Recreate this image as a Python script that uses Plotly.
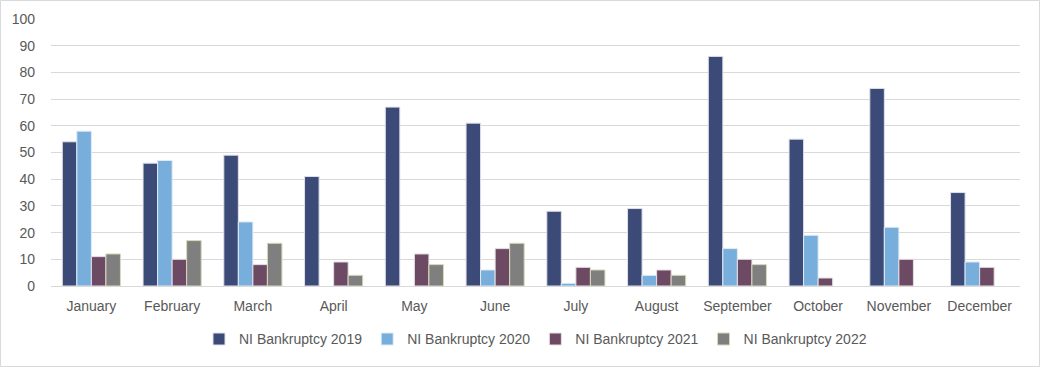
import plotly.graph_objects as go

months = ["January", "February", "March", "April", "May", "June", "July",
          "August", "September", "October", "November", "December"]
v2019 = [54, 46, 49, 41, 67, 61, 28, 29, 86, 55, 74, 35]
v2020 = [58, 47, 24, None, None, 6, 1, 4, 14, 19, 22, 9]
v2021 = [11, 10, 8, 9, 12, 14, 7, 6, 10, 3, 10, 7]
v2022 = [12, 17, 16, 4, 8, 16, 6, 4, 8, None, None, None]

series = [
    ("NI Bankruptcy 2019", v2019, "#3C4A78", "#E0E0EA"),
    ("NI Bankruptcy 2020", v2020, "#77AEDC", "#E0EAF4"),
    ("NI Bankruptcy 2021", v2021, "#6D4A64", "#E6DEE4"),
    ("NI Bankruptcy 2022", v2022, "#7F7F7F", "#D8D8B8"),
]

fig = go.Figure()
for name, vals, color, edge in series:
    fig.add_trace(go.Bar(x=months, y=vals, name=name,
                         marker=dict(color=color, line=dict(color=edge, width=1))))

font = dict(family="Liberation Sans Narrow, Liberation Sans, Arial", size=14, color="#595959")
fig.update_layout(
    width=1040, height=367,
    barmode="group", bargap=0.28, bargroupgap=0,
    plot_bgcolor="white", paper_bgcolor="white",
    margin=dict(l=51, r=20, t=19, b=81, autoexpand=False),
    font=font,
    showlegend=True,
    legend=dict(orientation="h", x=0.5, xanchor="center", y=-0.2, yanchor="middle",
                font=font, itemwidth=30, traceorder="normal"),
    xaxis=dict(showgrid=False, showline=True, linecolor="#D9D9D9", linewidth=1,
               ticks="", tickfont=font, automargin=False, ticklabelstandoff=7),
    yaxis=dict(range=[0, 100], dtick=10, showgrid=True, gridcolor="#D9D9D9",
               gridwidth=1, zeroline=False, showline=False, ticks="",
               tickfont=font, ticklabelstandoff=15, automargin=False),
    shapes=[dict(type="rect", xref="paper", yref="paper",
                 x0=-50.5/969, x1=1 + 19.5/969, y0=-80.5/267, y1=1 + 18.5/267,
                 line=dict(color="#D9D9D9", width=1))],
)
fig.write_html("out.html", config={"displayModeBar": False},
               post_script="document.body.style.margin='0';document.body.style.overflow='hidden';")
